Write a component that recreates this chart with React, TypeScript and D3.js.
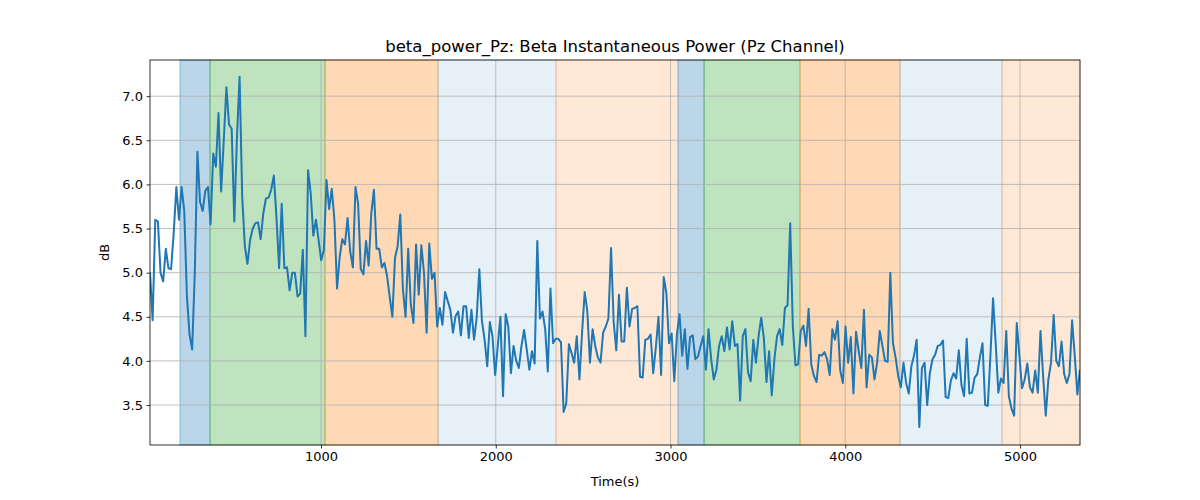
import React, { useEffect, useRef } from 'react';
import * as d3 from 'd3';

const values: number[] = [
  5.0, 4.46, 5.6, 5.58, 5.0, 4.9, 5.27, 5.05, 5.04, 5.45, 5.97, 5.6, 5.97, 5.7, 4.74, 4.3, 4.13, 5.0, 6.37, 5.8,
  5.7, 5.93, 5.97, 5.55, 6.35, 6.2, 6.81, 5.92, 6.5, 7.1, 6.68, 6.63, 5.58, 6.53, 7.22, 5.86, 5.3, 5.1, 5.37, 5.5,
  5.56, 5.57, 5.38, 5.67, 5.84, 5.85, 5.94, 6.1, 5.63, 5.05, 5.78, 5.05, 5.06, 4.8, 5.0, 5.0, 4.73, 4.76, 5.26, 4.28,
  6.16, 5.9, 5.42, 5.6, 5.37, 5.14, 5.26, 6.05, 5.72, 5.95, 5.6, 4.82, 5.18, 5.38, 5.32, 5.62, 5.24, 5.06, 5.97, 5.78,
  5.04, 4.98, 5.36, 5.08, 5.67, 5.94, 5.27, 5.27, 5.06, 5.11, 4.96, 4.72, 4.5, 5.17, 5.3, 5.66, 4.81, 4.5, 5.27, 4.64,
  4.43, 5.32, 4.75, 5.31, 5.0, 4.32, 5.33, 4.93, 5.0, 4.39, 4.6, 4.41, 4.78, 4.68, 4.58, 4.32, 4.51, 4.56, 4.29, 4.62,
  4.62, 4.26, 4.58, 4.24, 4.49, 5.04, 4.45, 4.24, 3.94, 4.44, 4.28, 3.84, 4.17, 4.5, 3.6, 4.53, 4.39, 3.86, 4.17, 4.0,
  3.92, 4.17, 4.35, 4.13, 3.9, 4.11, 3.97, 5.36, 4.48, 4.56, 4.36, 3.88, 4.82, 4.2, 4.25, 4.25, 4.21, 3.42, 3.52, 4.19,
  4.09, 3.98, 4.28, 3.79, 4.32, 4.78, 4.56, 3.98, 4.36, 4.17, 4.04, 3.98, 4.32, 4.39, 4.48, 5.28, 4.44, 4.12, 4.75, 4.22,
  4.22, 4.83, 4.39, 4.59, 4.6, 4.62, 3.82, 3.81, 4.24, 4.25, 4.3, 3.86, 4.15, 4.5, 3.84, 4.95, 4.77, 4.2, 4.31, 3.77,
  4.3, 4.53, 4.06, 4.36, 3.91, 4.27, 4.29, 4.02, 4.05, 4.17, 4.28, 3.9, 4.36, 4.02, 3.79, 3.9, 4.17, 4.28, 4.11, 4.38,
  4.13, 4.45, 4.17, 4.19, 3.55, 4.28, 4.36, 3.87, 3.77, 4.24, 3.98, 4.28, 4.49, 4.26, 3.76, 4.11, 3.61, 4.02, 4.28,
  4.36, 4.18, 4.6, 4.63, 5.56, 4.39, 3.95, 3.96, 4.34, 4.4, 4.17, 4.59, 3.96, 3.83, 3.76, 4.07, 4.06, 4.1, 4.02, 3.84,
  4.36, 4.24, 4.45, 3.89, 3.75, 4.39, 3.98, 4.27, 3.63, 4.33, 4.11, 3.92, 4.58, 3.7, 4.07, 4.04, 3.79, 3.98, 4.34, 4.17,
  4.0, 3.99, 5.0, 4.2, 4.04, 3.83, 3.7, 3.98, 3.75, 3.63, 3.94, 4.06, 4.24, 3.25, 3.92, 3.98, 3.5, 3.86, 4.02, 4.07,
  4.17, 4.18, 4.23, 3.59, 3.58, 3.78, 3.86, 3.8, 4.12, 3.73, 3.6, 4.25, 3.63, 3.64, 3.81, 3.85, 4.04, 4.2, 3.5, 3.49,
  4.06, 4.71, 4.2, 3.64, 3.8, 3.75, 4.34, 3.6, 3.46, 3.38, 4.43, 4.06, 3.69, 3.79, 3.97, 3.7, 3.64, 3.89, 3.64, 4.34,
  3.83, 3.38, 3.79, 3.98, 4.52, 4.0, 3.94, 4.22, 3.85, 3.75, 3.85, 4.46, 4.06, 3.62, 3.9,
];
const tStart = 21.5;
const tEnd = 5343;
const times = values.map((_, i) => tStart + (i * (tEnd - tStart)) / (values.length - 1));

const bandStarts = [193, 365, 1023, 1670, 2345, 3043, 3192, 3741, 4313, 4897];
const bandEnds = [365, 1023, 1670, 2345, 3043, 3192, 3741, 4313, 4897, 5343];
const bandColors = ['#1f77b4', '#2ca02c', '#ff7f0e', '#1f77b4', '#ff7f0e', '#1f77b4', '#2ca02c', '#ff7f0e', '#1f77b4', '#ff7f0e'];
const bandAlphas = [0.3, 0.3, 0.3, 0.11, 0.17, 0.3, 0.3, 0.3, 0.11, 0.17];

const xTicks = [1000, 2000, 3000, 4000, 5000];
const yTicks = [3.5, 4.0, 4.5, 5.0, 5.5, 6.0, 6.5, 7.0];

const W = 1200, H = 500;
const M = { left: 150, right: 1080, top: 60, bottom: 445 };

export default function App() {
  const ref = useRef<SVGSVGElement>(null);

  useEffect(() => {
    const svg = d3.select(ref.current);
    svg.selectAll('*').remove();
    const font = 'DejaVu Sans, sans-serif';

    const x = d3.scaleLinear().domain([21.5, 5343]).range([M.left, M.right]);
    const y = d3.scaleLinear().domain([3.047, 7.41]).range([M.bottom, M.top]);

    svg.append('rect').attr('width', W).attr('height', H).attr('fill', 'white');

    // shaded phases
    bandStarts.forEach((s, i) => {
      svg.append('rect')
        .attr('x', x(s)).attr('y', M.top)
        .attr('width', x(bandEnds[i]) - x(s)).attr('height', M.bottom - M.top)
        .attr('fill', bandColors[i]).attr('fill-opacity', bandAlphas[i])
        .attr('stroke', bandColors[i]).attr('stroke-opacity', bandAlphas[i] + 0.1);
    });

    // grid
    const grid = svg.append('g').attr('stroke', '#b0b0b0').attr('stroke-width', 0.8);
    xTicks.forEach(t => grid.append('line').attr('x1', x(t)).attr('x2', x(t)).attr('y1', M.top).attr('y2', M.bottom));
    yTicks.forEach(t => grid.append('line').attr('x1', M.left).attr('x2', M.right).attr('y1', y(t)).attr('y2', y(t)));

    const line = d3.line<number>().x((_, i) => x(times[i])).y(d => y(d));
    svg.append('defs').append('clipPath').attr('id', 'clip').append('rect')
      .attr('x', M.left).attr('y', M.top).attr('width', M.right - M.left).attr('height', M.bottom - M.top);
    svg.append('path').datum(values).attr('d', line).attr('fill', 'none')
      .attr('stroke', '#1f77b4').attr('stroke-width', 2).attr('stroke-linejoin', 'round')
      .attr('clip-path', 'url(#clip)');

    svg.append('rect').attr('x', M.left).attr('y', M.top)
      .attr('width', M.right - M.left).attr('height', M.bottom - M.top)
      .attr('fill', 'none').attr('stroke', 'black').attr('stroke-width', 0.8);

    const xAxis = svg.append('g').attr('transform', `translate(0,${M.bottom})`)
      .call(d3.axisBottom(x).tickValues(xTicks).tickSize(3.5).tickPadding(3.5).tickFormat(d3.format('d')));
    const yAxis = svg.append('g').attr('transform', `translate(${M.left},0)`)
      .call(d3.axisLeft(y).tickValues(yTicks).tickSize(3.5).tickPadding(3.5).tickFormat(d3.format('.1f')));
    [xAxis, yAxis].forEach(a => {
      a.select('.domain').remove();
      a.selectAll('text').attr('font-family', font).attr('font-size', 13).attr('fill', 'black');
      a.selectAll('line').attr('stroke', 'black').attr('stroke-width', 0.8);
    });

    svg.append('text').attr('x', (M.left + M.right) / 2).attr('y', 52).attr('text-anchor', 'middle')
      .attr('font-family', font).attr('font-size', 16.5).text('beta_power_Pz: Beta Instantaneous Power (Pz Channel)');
    svg.append('text').attr('x', (M.left + M.right) / 2).attr('y', 486).attr('text-anchor', 'middle')
      .attr('font-family', font).attr('font-size', 13).text('Time(s)');
    svg.append('text').attr('transform', `translate(109,${(M.top + M.bottom) / 2}) rotate(-90)`)
      .attr('text-anchor', 'middle').attr('font-family', font).attr('font-size', 13).text('dB');
  }, []);

  return <svg ref={ref} width={W} height={H} style={{ display: 'block', margin: -8 }} />;
}
